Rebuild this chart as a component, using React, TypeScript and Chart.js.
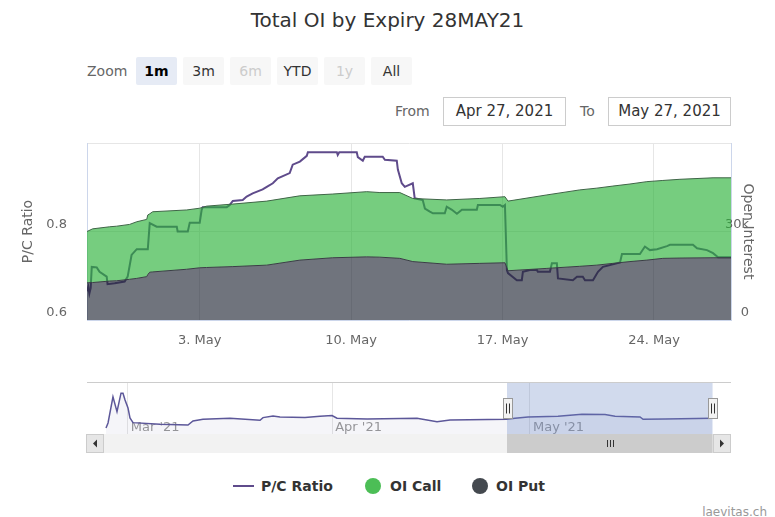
import React, { useEffect, useRef } from "react";
import { Chart, registerables } from "chart.js";

Chart.register(...registerables);

const FONT = "'DejaVu Sans', Verdana, sans-serif";
const PURPLE = "#5f4b8b";

// x values are days counted from 30 Apr 2021 00:00 (3 = 3 May)
const xTickDays = [3, 10, 17, 24];
const xTickLabels = ["3. May", "10. May", "17. May", "24. May"];
const leftTicks = [0.6, 0.8, 1.0];
const rightTicks = [0, 30000, 60000];
const viewRange = [-2.21, 27.56];

const pcDays = [-2.21, -2.15, -2.10, -2.04, -1.99, -1.76, -1.63, -1.30, -1.26, -0.93, -0.47, -0.33, -0.15, 0.09, 0.60, 0.69, 1.01, 1.94, 1.98, 2.45, 2.54, 3.00, 3.09, 3.14, 4.25, 4.39, 4.53, 4.99, 5.17, 5.45, 5.91, 6.10, 6.38, 6.61, 7.16, 7.30, 7.63, 7.95, 8.00, 9.34, 9.38, 9.45, 10.26, 10.31, 10.54, 10.63, 11.46, 11.56, 12.11, 12.16, 12.34, 12.48, 12.85, 12.94, 13.31, 13.41, 13.64, 13.78, 14.33, 14.42, 14.66, 14.89, 15.12, 15.81, 15.86, 16.88, 17.01, 17.11, 17.20, 17.25, 17.66, 17.89, 17.94, 18.26, 18.59, 18.63, 19.19, 19.28, 19.51, 19.56, 20.25, 20.44, 20.71, 20.81, 21.18, 21.41, 21.64, 21.96, 22.43, 22.52, 23.35, 23.58, 23.81, 24.14, 24.60, 24.74, 25.80, 25.99, 26.45, 26.73, 26.96, 27.56];
const pcRatio = [0.665, 0.675, 0.660, 0.672, 0.720, 0.719, 0.709, 0.698, 0.681, 0.683, 0.687, 0.698, 0.747, 0.760, 0.760, 0.819, 0.811, 0.811, 0.800, 0.800, 0.820, 0.820, 0.849, 0.855, 0.855, 0.860, 0.869, 0.871, 0.879, 0.886, 0.895, 0.901, 0.909, 0.920, 0.932, 0.951, 0.958, 0.971, 0.979, 0.979, 0.973, 0.979, 0.979, 0.968, 0.960, 0.969, 0.969, 0.962, 0.960, 0.940, 0.909, 0.901, 0.909, 0.875, 0.871, 0.852, 0.845, 0.841, 0.841, 0.856, 0.849, 0.840, 0.849, 0.849, 0.860, 0.860, 0.856, 0.860, 0.713, 0.706, 0.690, 0.690, 0.709, 0.713, 0.713, 0.709, 0.709, 0.728, 0.728, 0.694, 0.690, 0.698, 0.698, 0.690, 0.690, 0.709, 0.720, 0.724, 0.730, 0.749, 0.749, 0.766, 0.758, 0.760, 0.767, 0.770, 0.770, 0.762, 0.758, 0.751, 0.742, 0.742];

const oiDays = [-2.21, -1.95, -1.16, -0.84, -0.24, 0.09, 0.55, 0.60, 0.69, 0.83, 2.40, 3.00, 3.32, 4.53, 6.10, 7.63, 9.15, 10.72, 11.33, 12.25, 12.85, 14.42, 15.95, 17.11, 17.25, 19.05, 20.57, 21.36, 22.10, 22.89, 23.67, 24.41, 25.20, 26.73, 27.56];
const oiPut = [12600, 12700, 13200, 13300, 13800, 14100, 14700, 15400, 16200, 16300, 17200, 17700, 17800, 18100, 18600, 20300, 21100, 21400, 21300, 20900, 19800, 18900, 19200, 19400, 16700, 17500, 18200, 18600, 19200, 19800, 20300, 20900, 21000, 21100, 21100];
const oiCall = [17400, 18200, 18400, 18500, 18600, 19200, 19400, 20200, 19800, 20400, 20100, 20200, 20800, 21200, 21700, 21800, 21600, 22100, 21900, 22300, 21400, 21800, 22000, 22400, 23600, 24900, 25900, 26100, 26200, 26300, 26600, 26400, 26700, 27100, 27100];

// navigator (full history of the P/C ratio)
const navTickDays = [-60, -29, 1];
const navTickLabels = ["Mar '21", "Apr '21", "May '21"];
const navRange = [-66.2, 31.5];
const navSelection = [-2.48, 28.7];
const navDays = [-63.32, -63.01, -62.26, -61.65, -61.04, -60.74, -60.43, -59.98, -59.68, -59.22, -55.13, -50.88, -50.12, -48.60, -44.51, -39.95, -39.50, -37.98, -36.92, -33.13, -30.85, -29.03, -28.27, -23.72, -16.14, -13.10, -11.13, -2.48, -1.27, 0.70, 5.26, 8.90, 12.39, 13.91, 17.70, 18.16, 21.50, 28.62];
const navRatio = [0.11, 0.41, 1.97, 1.09, 2.19, 2.19, 1.79, 1.31, 0.71, 0.43, 0.33, 0.29, 0.53, 0.63, 0.69, 0.57, 0.73, 0.83, 0.77, 0.73, 0.81, 0.85, 0.69, 0.65, 0.69, 0.49, 0.59, 0.63, 0.69, 0.77, 0.81, 0.93, 0.91, 0.81, 0.77, 0.63, 0.65, 0.69];

const rangeButtons = ["1m", "3m", "6m", "YTD", "1y", "All"];
const disabledButtons = ["6m", "1y"];
const selectedButton = "1m";
const fromDate = "Apr 27, 2021";
const toDate = "May 27, 2021";

function drawButton(ctx: CanvasRenderingContext2D, x: number, y: number, w: number, h: number, dir: number) {
  ctx.fillStyle = "#e6e6e6";
  ctx.fillRect(x, y, w, h);
  ctx.strokeStyle = "#cccccc";
  ctx.lineWidth = 1;
  ctx.strokeRect(x + 0.5, y + 0.5, w - 1, h - 1);
  ctx.fillStyle = "#333333";
  const cx = x + w / 2;
  const cy = y + h / 2;
  ctx.beginPath();
  if (dir < 0) {
    ctx.moveTo(cx - 2, cy);
    ctx.lineTo(cx + 2, cy - 4);
    ctx.lineTo(cx + 2, cy + 4);
  } else {
    ctx.moveTo(cx + 2, cy);
    ctx.lineTo(cx - 2, cy - 4);
    ctx.lineTo(cx - 2, cy + 4);
  }
  ctx.closePath();
  ctx.fill();
}

function drawHandle(ctx: CanvasRenderingContext2D, x: number, cy: number) {
  const w = 9;
  const h = 20;
  const l = Math.round(x - w / 2) + 0.5;
  const t = Math.round(cy - h / 2) + 0.5;
  ctx.fillStyle = "#f2f2f2";
  ctx.fillRect(l, t, w, h);
  ctx.strokeStyle = "#999999";
  ctx.lineWidth = 1;
  ctx.strokeRect(l, t, w, h);
  ctx.strokeStyle = "#333333";
  ctx.beginPath();
  ctx.moveTo(l + 3, t + 5);
  ctx.lineTo(l + 3, t + h - 5);
  ctx.moveTo(l + 6, t + 5);
  ctx.lineTo(l + 6, t + h - 5);
  ctx.stroke();
}

const navDecor = {
  id: "navDecor",
  afterDraw(chart: any) {
    const { ctx, chartArea: a, scales } = chart;
    const xs = scales.x;
    const x0 = xs.getPixelForValue(navSelection[0]);
    const x1 = xs.getPixelForValue(navSelection[1]);
    ctx.save();
    ctx.fillStyle = "rgba(102,133,194,0.3)";
    ctx.fillRect(x0, a.top, x1 - x0, a.bottom - a.top);
    ctx.strokeStyle = "#cccccc";
    ctx.lineWidth = 1;
    ctx.beginPath();
    ctx.moveTo(a.left, a.top + 0.5);
    ctx.lineTo(a.right, a.top + 0.5);
    ctx.stroke();
    // scrollbar
    const sTop = a.bottom;
    const sH = 19;
    ctx.fillStyle = "#f2f2f2";
    ctx.fillRect(a.left, sTop, a.right - a.left, sH);
    ctx.fillStyle = "#cccccc";
    ctx.fillRect(x0, sTop, x1 - x0, sH);
    const cx = Math.round((x0 + x1) / 2);
    ctx.strokeStyle = "#333333";
    ctx.beginPath();
    for (const d of [-3, 0, 3]) {
      ctx.moveTo(cx + d + 0.5, sTop + 6);
      ctx.lineTo(cx + d + 0.5, sTop + 13);
    }
    ctx.stroke();
    drawButton(ctx, a.left - 1, sTop, 18, sH, -1);
    drawButton(ctx, a.right - 18, sTop, 18, sH, 1);
    const cy = (a.top + a.bottom) / 2;
    drawHandle(ctx, x0, cy);
    drawHandle(ctx, x1, cy);
    ctx.restore();
  },
};

const noPad = (s: any) => {
  s.paddingTop = 0;
  s.paddingBottom = 0;
  s.paddingLeft = 0;
  s.paddingRight = 0;
};

export default function App() {
  const mainRef = useRef<HTMLCanvasElement>(null);
  const navRef = useRef<HTMLCanvasElement>(null);

  useEffect(() => {
    Chart.defaults.font.family = FONT;
    const callTop = oiCall.map((c, i) => c + oiPut[i]);

    const main = new Chart(mainRef.current as HTMLCanvasElement, {
      type: "line",
      data: {
        datasets: [
          {
            label: "P/C Ratio",
            data: pcDays.map((d, i) => ({ x: d, y: pcRatio[i] })),
            yAxisID: "y",
            borderColor: PURPLE,
            borderWidth: 2,
            pointRadius: 0,
            fill: false,
            order: 3,
          },
          {
            label: "OI Call",
            data: oiDays.map((d, i) => ({ x: d, y: callTop[i] })),
            yAxisID: "y1",
            borderColor: "#3f6547",
            borderWidth: 1,
            backgroundColor: "rgba(40,176,54,0.64)",
            fill: 2,
            pointRadius: 0,
            order: 2,
          },
          {
            label: "OI Put",
            data: oiDays.map((d, i) => ({ x: d, y: oiPut[i] })),
            yAxisID: "y1",
            borderColor: "#3a3e45",
            borderWidth: 1,
            backgroundColor: "rgba(32,38,51,0.64)",
            fill: "origin",
            pointRadius: 0,
            order: 1,
          },
        ],
      } as any,
      options: {
        responsive: false,
        animation: false,
        events: [],
        layout: { padding: { top: 8, left: 16, right: 26, bottom: 0 } },
        plugins: { legend: { display: false }, tooltip: { enabled: false } },
        scales: {
          x: {
            type: "linear",
            min: viewRange[0],
            max: viewRange[1],
            afterBuildTicks: (s: any) => {
              s.ticks = xTickDays.map((v) => ({ value: v }));
            },
            afterFit: (s: any) => {
              s.height = 40;
              noPad(s);
            },
            ticks: {
              callback: (v: any) => {
                const i = xTickDays.indexOf(Number(v));
                return i >= 0 ? xTickLabels[i] : "";
              },
              color: "#666666",
              font: { size: 13 },
              padding: 13,
              maxRotation: 0,
              autoSkip: false,
            },
            grid: { color: "#e6e6e6", drawTicks: false },
            border: { color: "#ccd6eb" },
          },
          y: {
            type: "linear",
            position: "left",
            min: leftTicks[0],
            max: leftTicks[leftTicks.length - 1],
            afterBuildTicks: (s: any) => {
              s.ticks = leftTicks.map((v) => ({ value: v }));
            },
            afterFit: (s: any) => {
              s.width = 71;
              noPad(s);
            },
            ticks: {
              callback: (v: any) => (Number(v) >= 0.999 ? "" : Number(v).toFixed(1)),
              color: "#666666",
              font: { size: 13 },
              padding: 20,
              labelOffset: -7,
            },
            grid: { color: "#e6e6e6", drawTicks: false },
            border: { color: "#ccd6eb" },
            title: { display: true, text: "P/C Ratio", color: "#666666", font: { size: 14 }, padding: { top: 4, bottom: 4 } },
          },
          y1: {
            type: "linear",
            position: "right",
            min: rightTicks[0],
            max: rightTicks[rightTicks.length - 1],
            afterBuildTicks: (s: any) => {
              s.ticks = rightTicks.map((v) => ({ value: v }));
            },
            afterFit: (s: any) => {
              s.width = 18;
              noPad(s);
            },
            ticks: {
              callback: (v: any) => {
                const n = Number(v);
                if (n >= 60000) return "";
                return n === 0 ? "0" : n / 1000 + "k";
              },
              crossAlign: "far",
              mirror: false,
              color: "#666666",
              font: { size: 13 },
              padding: 0,
              labelOffset: -7,
            },
            grid: { display: false },
            border: { color: "#ccd6eb" },
            title: { display: true, text: "Open Interest", color: "#666666", font: { size: 14 }, padding: { top: -7.4, bottom: 0 } },
          },
        },
      } as any,
      plugins: [
        {
          id: "unclipRightLabels",
          beforeDraw(chart: any) {
            const s = chart.scales.y1;
            if (s) s._computeLabelArea = () => undefined;
          },
        } as any,
      ],
    });

    const nav = new Chart(navRef.current as HTMLCanvasElement, {
      type: "line",
      data: {
        datasets: [
          {
            label: "P/C Ratio",
            data: navDays.map((d, i) => ({ x: d, y: navRatio[i] })),
            borderColor: "#5c5799",
            borderWidth: 1.5,
            backgroundColor: "rgba(92,87,153,0.06)",
            fill: "start",
            pointRadius: 0,
          },
        ],
      } as any,
      options: {
        responsive: false,
        animation: false,
        events: [],
        layout: { padding: { top: 7, left: 87, right: 44, bottom: 0 } },
        plugins: { legend: { display: false }, tooltip: { enabled: false } },
        scales: {
          x: {
            type: "linear",
            min: navRange[0],
            max: navRange[1],
            afterBuildTicks: (s: any) => {
              s.ticks = navTickDays.map((v) => ({ value: v }));
            },
            afterFit: (s: any) => {
              s.height = 21;
              noPad(s);
            },
            ticks: {
              callback: (v: any) => {
                const i = navTickDays.indexOf(Number(v));
                return i >= 0 ? navTickLabels[i] : "";
              },
              align: "start",
              mirror: true,
              labelOffset: 3,
              padding: -1,
              color: "#999999",
              font: { size: 13 },
              maxRotation: 0,
              autoSkip: false,
            },
            grid: { color: "#e6e6e6", drawTicks: false },
            border: { display: false },
          },
          y: { display: false, min: -0.25, max: 2.86 },
        },
      } as any,
      plugins: [navDecor as any],
    });

    return () => {
      main.destroy();
      nav.destroy();
    };
  }, []);

  const text = (extra: React.CSSProperties): React.CSSProperties => ({
    position: "absolute",
    whiteSpace: "nowrap",
    ...extra,
  });

  return (
    <div
      style={{
        position: "fixed",
        left: 0,
        top: 0,
        width: 775,
        height: 517,
        background: "#ffffff",
        fontFamily: FONT,
        overflow: "hidden",
      }}
    >
      <div style={text({ left: 0, top: 8, width: 775, textAlign: "center", fontSize: 20, lineHeight: "24px", color: "#333333" })}>
        Total OI by Expiry 28MAY21
      </div>

      <div style={text({ left: 87, top: 61, fontSize: 14, lineHeight: "20px", color: "#666666" })}>Zoom</div>
      {rangeButtons.map((b, i) => {
        const sel = b === selectedButton;
        const dis = disabledButtons.includes(b);
        return (
          <div
            key={b}
            style={text({
              left: 136 + i * 47,
              top: 57,
              width: 41,
              height: 28,
              lineHeight: "28px",
              textAlign: "center",
              fontSize: 14,
              borderRadius: 2,
              background: sel ? "#e6ebf5" : "#f7f7f7",
              color: dis ? "#cccccc" : sel ? "#000000" : "#333333",
              fontWeight: sel ? "bold" : "normal",
            })}
          >
            {b}
          </div>
        );
      })}

      <div style={text({ left: 395, top: 101, fontSize: 14, lineHeight: "20px", color: "#666666" })}>From</div>
      <div
        style={text({
          left: 443,
          top: 97,
          width: 123,
          height: 29,
          boxSizing: "border-box",
          border: "1px solid #cccccc",
          textAlign: "center",
          lineHeight: "27px",
          fontSize: 15,
          color: "#333333",
        })}
      >
        {fromDate}
      </div>
      <div style={text({ left: 580, top: 101, fontSize: 14, lineHeight: "20px", color: "#666666" })}>To</div>
      <div
        style={text({
          left: 608,
          top: 97,
          width: 123,
          height: 29,
          boxSizing: "border-box",
          border: "1px solid #cccccc",
          textAlign: "center",
          lineHeight: "27px",
          fontSize: 15,
          color: "#333333",
        })}
      >
        {toDate}
      </div>

      <canvas
        ref={mainRef}
        width={775}
        height={225}
        style={{ position: "absolute", left: 0, top: 135, width: 775, height: 225 }}
      />
      <canvas
        ref={navRef}
        width={775}
        height={80}
        style={{ position: "absolute", left: 0, top: 375, width: 775, height: 80 }}
      />

      <div style={{ position: "absolute", left: 233, top: 485, width: 21, height: 2, background: PURPLE }} />
      <div style={text({ left: 261, top: 477, fontSize: 14, lineHeight: "18px", fontWeight: "bold", color: "#333333" })}>P/C Ratio</div>
      <div style={{ position: "absolute", left: 365, top: 478, width: 16, height: 16, borderRadius: 8, background: "#4cbe56" }} />
      <div style={text({ left: 390, top: 477, fontSize: 14, lineHeight: "18px", fontWeight: "bold", color: "#333333" })}>OI Call</div>
      <div style={{ position: "absolute", left: 472, top: 478, width: 16, height: 16, borderRadius: 8, background: "#44494f" }} />
      <div style={text({ left: 496, top: 477, fontSize: 14, lineHeight: "18px", fontWeight: "bold", color: "#333333" })}>OI Put</div>

      <div style={text({ right: 8, top: 504, fontSize: 12, lineHeight: "16px", color: "#999999" })}>laevitas.ch</div>
    </div>
  );
}
